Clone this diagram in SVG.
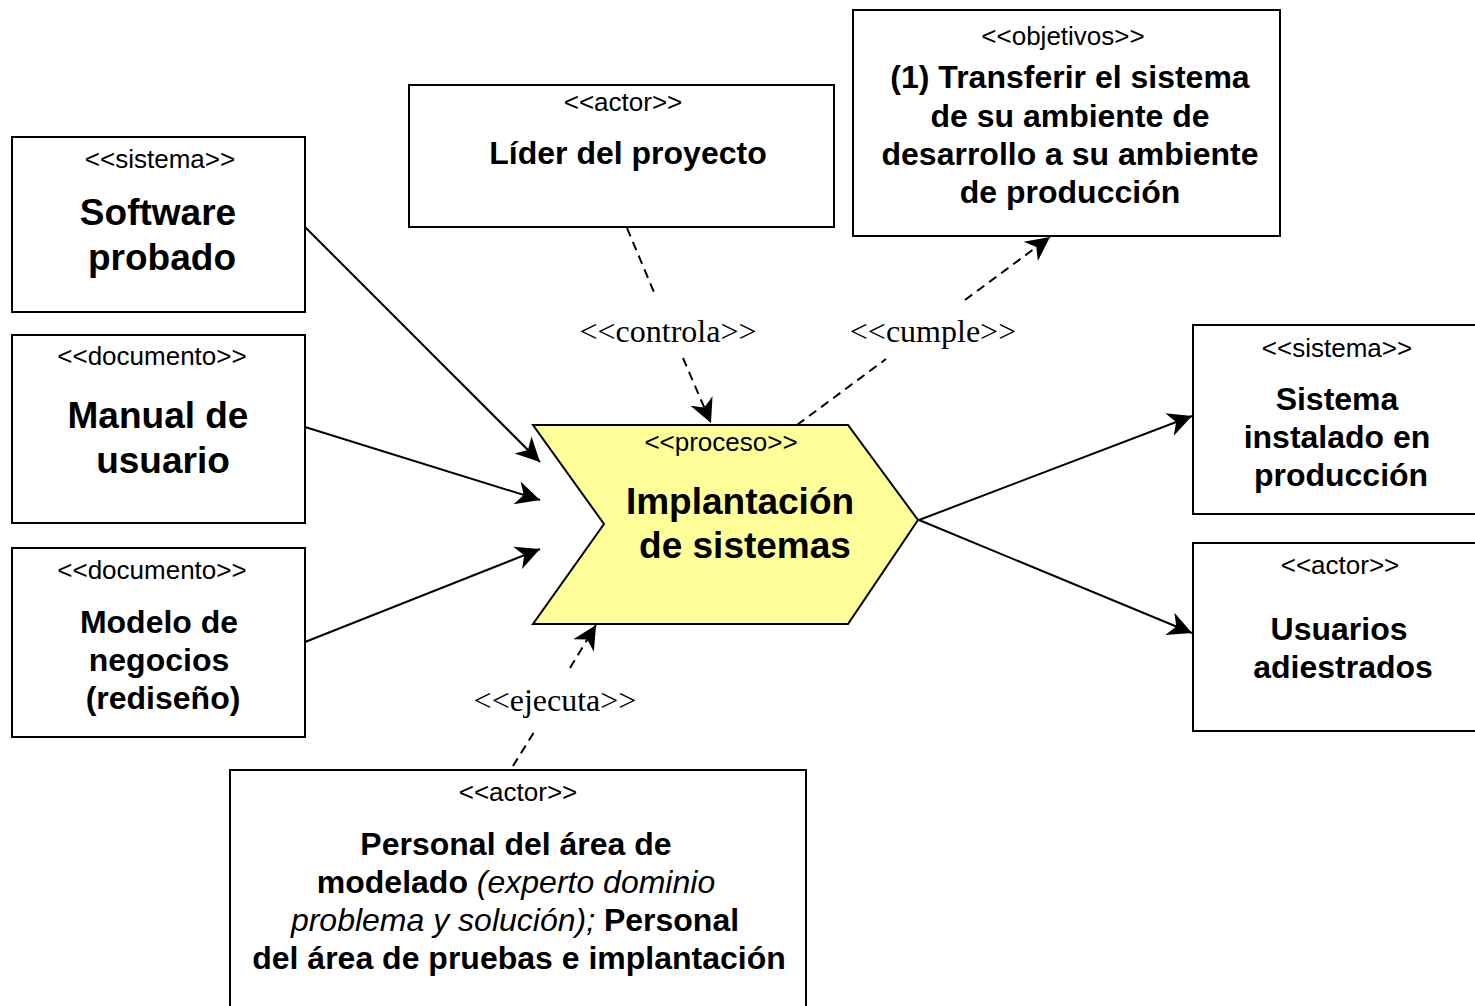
<svg xmlns="http://www.w3.org/2000/svg" width="1475" height="1006" viewBox="0 0 1475 1006">
<style>
.box{fill:#fff;stroke:#000;stroke-width:2}
.st{font-family:"Liberation Sans",Arial,sans-serif;font-size:26px;text-anchor:middle;fill:#000}
.t36{font-family:"Liberation Sans",Arial,sans-serif;font-size:37px;font-weight:bold;text-anchor:middle;fill:#000}
.t32{font-family:"Liberation Sans",Arial,sans-serif;font-size:32px;font-weight:bold;text-anchor:middle;fill:#000}
.it{font-style:italic;font-weight:normal}
.lbl{font-family:"Liberation Serif","Times New Roman",serif;font-size:32px;text-anchor:middle;fill:#000}
.ln{fill:none;stroke:#000;stroke-width:2}
.dash{fill:none;stroke:#000;stroke-width:2;stroke-dasharray:9 6}
</style>
<defs>
<marker id="ah" markerUnits="userSpaceOnUse" markerWidth="26" markerHeight="24" refX="24" refY="12" orient="auto" overflow="visible">
<path d="M0,0 L24,12 L0,24 L7,12 Z" fill="#000"/>
</marker>
</defs>

<g id="connectors">
<line class="ln" x1="305" y1="227" x2="540" y2="462" marker-end="url(#ah)"/>
<line class="ln" x1="305" y1="427" x2="540" y2="500" marker-end="url(#ah)"/>
<line class="ln" x1="305" y1="642" x2="540" y2="549" marker-end="url(#ah)"/>
<line class="ln" x1="919" y1="520" x2="1192" y2="416" marker-end="url(#ah)"/>
<line class="ln" x1="919" y1="520" x2="1192" y2="633" marker-end="url(#ah)"/>
<line class="dash" x1="627" y1="228" x2="656" y2="297"/>
<line class="dash" x1="683" y1="358" x2="711" y2="423" marker-end="url(#ah)"/>
<line class="dash" x1="797" y1="425" x2="886" y2="359"/>
<line class="dash" x1="965" y1="300" x2="1050" y2="237" marker-end="url(#ah)"/>
<line class="dash" x1="513" y1="766" x2="536" y2="729"/>
<line class="dash" x1="570" y1="668" x2="596" y2="625" marker-end="url(#ah)"/>
<text class="lbl" x="668" y="342">&lt;&lt;controla&gt;&gt;</text>
<text class="lbl" x="933" y="342">&lt;&lt;cumple&gt;&gt;</text>
<text class="lbl" x="555" y="711">&lt;&lt;ejecuta&gt;&gt;</text>
</g>

<g id="software-probado">
<rect class="box" x="12" y="137" width="293" height="175"/>
<text class="st" x="160" y="168">&lt;&lt;sistema&gt;&gt;</text>
<text class="t36" x="158" y="225">Software</text>
<text class="t36" x="162" y="270">probado</text>
</g>

<g id="manual-usuario">
<rect class="box" x="12" y="335" width="293" height="188"/>
<text class="st" x="152" y="365">&lt;&lt;documento&gt;&gt;</text>
<text class="t36" x="158" y="428">Manual de</text>
<text class="t36" x="163" y="473">usuario</text>
</g>

<g id="modelo-negocios">
<rect class="box" x="12" y="548" width="293" height="189"/>
<text class="st" x="152" y="579">&lt;&lt;documento&gt;&gt;</text>
<text class="t32" x="159" y="633">Modelo de</text>
<text class="t32" x="159" y="671">negocios</text>
<text class="t32" x="163" y="709">(rediseño)</text>
</g>

<g id="lider-proyecto">
<rect class="box" x="409" y="85" width="425" height="142"/>
<text class="st" x="623" y="111">&lt;&lt;actor&gt;&gt;</text>
<text class="t32" x="628" y="164">Líder del proyecto</text>
</g>

<g id="objetivos">
<rect class="box" x="853" y="10" width="427" height="226"/>
<text class="st" x="1063" y="45">&lt;&lt;objetivos&gt;&gt;</text>
<text class="t32" x="1070" y="88">(1) Transferir el sistema</text>
<text class="t32" x="1070" y="127">de su ambiente de</text>
<text class="t32" x="1070" y="165">desarrollo a su ambiente</text>
<text class="t32" x="1070" y="203">de producción</text>
</g>

<g id="implantacion">
<polygon points="533,425 848,425 918,520 848,624 533,624 604,524" fill="#FFFF99" stroke="#000" stroke-width="2"/>
<text class="st" x="721" y="451">&lt;&lt;proceso&gt;&gt;</text>
<text class="t36" x="740" y="514">Implantación</text>
<text class="t36" x="745" y="558">de sistemas</text>
</g>

<g id="sistema-instalado">
<rect class="box" x="1193" y="325" width="290" height="189"/>
<text class="st" x="1337" y="357">&lt;&lt;sistema&gt;&gt;</text>
<text class="t32" x="1337" y="410">Sistema</text>
<text class="t32" x="1337" y="448">instalado en</text>
<text class="t32" x="1341" y="486">producción</text>
</g>

<g id="usuarios-adiestrados">
<rect class="box" x="1193" y="543" width="290" height="188"/>
<text class="st" x="1340" y="574">&lt;&lt;actor&gt;&gt;</text>
<text class="t32" x="1339" y="640">Usuarios</text>
<text class="t32" x="1343" y="678">adiestrados</text>
</g>

<g id="personal">
<rect class="box" x="230" y="770" width="576" height="250"/>
<text class="st" x="518" y="801">&lt;&lt;actor&gt;&gt;</text>
<text class="t32" x="516" y="855">Personal del área de</text>
<text class="t32" x="516" y="893">modelado <tspan class="it">(experto dominio</tspan></text>
<text class="t32" x="515" y="931"><tspan class="it">problema y solución);</tspan> Personal</text>
<text class="t32" x="519" y="969">del área de pruebas e implantación</text>
</g>
</svg>
